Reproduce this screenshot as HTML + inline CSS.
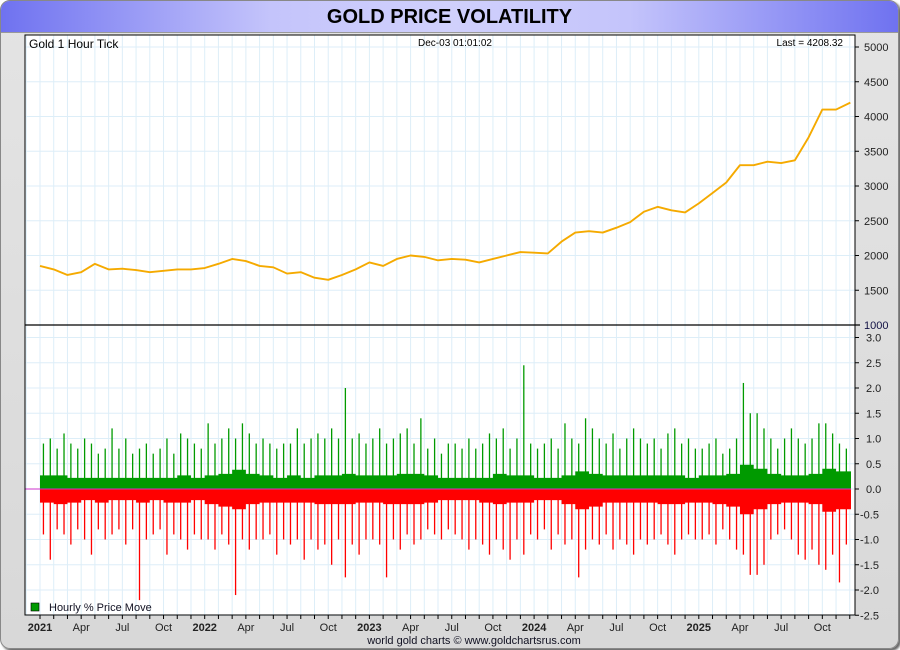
<!DOCTYPE html>
<html><head><meta charset="utf-8"><style>
body{margin:0;width:900px;height:650px;overflow:hidden;background:#fff;font-family:"Liberation Sans",sans-serif}
#frame{position:absolute;left:0;top:0;width:897px;height:647px;border:1px solid #888;border-radius:10px;background:linear-gradient(#e4e4e4,#d8d8d8);box-shadow:2px 2px 2px #666;overflow:hidden}
#title{position:absolute;left:0;top:0;width:897px;height:31px;background:linear-gradient(90deg,#6f72f0,#c4c4fb 30%,#d0d0fc 50%,#c4c4fb 70%,#6f72f0);text-align:center;font-weight:bold;font-size:20px;line-height:33px;color:#000;border-bottom:1px solid #999}
svg{position:absolute;left:0;top:0}
</style></head><body>
<div id="frame">
<div id="title">GOLD PRICE VOLATILITY</div>
</div>
<svg id="chart" width="900" height="650"></svg>
<script>
const priceMonths = [1850,1800,1720,1760,1880,1800,1810,1790,1760,1780,1800,1800,
1820,1880,1950,1920,1850,1830,1740,1760,1680,1650,1720,1800,
1900,1850,1950,2000,1980,1930,1950,1940,1900,1950,2000,2050,
2040,2030,2200,2330,2350,2330,2400,2480,2630,2700,2650,2620,
2750,2900,3050,3300,3300,3350,3330,3370,3700,4100,4100,4200];
const upPeaks = [0.9,1.0,0.8,1.1,0.9,0.8,1.0,0.9,0.7,0.8,1.2,0.8,1.0,0.7,0.8,0.9,0.7,0.8,1.0,0.7,1.1,1.0,0.9,0.8,
1.3,0.9,1.0,1.2,1.0,1.3,1.1,0.9,1.0,0.9,0.8,0.9,0.9,1.2,0.9,1.0,1.1,1.0,1.2,1.0,2.0,1.0,1.1,0.9,
1.0,1.2,0.9,1.0,1.1,1.2,0.9,1.4,0.8,1.0,0.7,0.9,0.9,0.8,1.0,0.8,0.9,1.1,1.0,1.2,0.8,1.0,2.45,0.9,
0.8,0.9,1.0,0.8,1.3,1.0,0.9,1.4,1.2,1.0,0.9,1.1,0.8,1.0,1.2,1.0,0.9,1.0,0.8,1.1,1.2,0.9,1.0,0.8,
0.8,0.9,1.0,0.7,0.8,1.0,2.1,1.5,1.5,1.2,1.0,0.8,1.0,1.2,1.0,0.9,1.0,1.3,1.3,1.1,0.9,0.8];
const downPeaks = [-0.9,-1.4,-0.8,-0.9,-1.1,-0.8,-1.0,-1.3,-0.8,-1.0,-0.9,-0.8,-1.1,-0.8,-2.2,-1.0,-0.9,-0.8,-1.3,-0.9,-1.0,-1.2,-0.9,-1.0,
-1.0,-1.2,-0.9,-1.1,-2.1,-1.0,-1.2,-1.0,-1.0,-0.9,-1.3,-1.0,-1.1,-1.0,-1.4,-1.0,-1.2,-1.1,-1.5,-1.0,-1.75,-1.1,-1.3,-1.0,
-1.0,-1.1,-1.75,-1.0,-1.2,-0.9,-1.1,-1.0,-0.8,-0.9,-1.0,-0.8,-0.9,-1.0,-1.2,-1.0,-1.1,-1.3,-1.0,-1.2,-1.4,-1.0,-1.3,-0.9,
-1.0,-0.8,-1.2,-0.9,-1.1,-1.0,-1.75,-1.2,-1.0,-1.1,-0.9,-1.2,-1.0,-1.1,-1.3,-1.0,-1.1,-1.0,-0.9,-1.1,-1.3,-1.0,-0.9,-1.0,
-1.0,-0.9,-1.1,-0.8,-1.0,-1.2,-1.3,-1.7,-1.7,-1.5,-1.0,-0.9,-0.8,-1.0,-1.3,-1.4,-1.2,-1.5,-1.6,-1.3,-1.85,-1.1];
const upTypical = [.27,.27,.22,.22,.22,.22,.22,.22,.22,.22,.27,.22, .27,.3,.38,.3,.27,.22,.27,.22,.27,.27,.3,.27,
.27,.27,.3,.3,.27,.22,.22,.22,.22,.3,.27,.27, .22,.22,.27,.35,.3,.27,.27,.27,.27,.27,.27,.22, .27,.27,.3,.48,.4,.3,.27,.27,.3,.4,.35,.35];
const downTypical = [-.27,-.3,-.27,-.22,-.27,-.22,-.22,-.27,-.22,-.27,-.27,-.22, -.3,-.35,-.4,-.3,-.27,-.27,-.27,-.27,-.3,-.3,-.3,-.27,
-.27,-.3,-.3,-.3,-.27,-.22,-.22,-.22,-.27,-.3,-.27,-.27, -.22,-.22,-.3,-.4,-.35,-.27,-.27,-.27,-.27,-.3,-.3,-.27, -.27,-.3,-.35,-.5,-.4,-.3,-.27,-.27,-.3,-.45,-.4,-.4];
const priceTicks = [1000,1500,2000,2500,3000,3500,4000,4500,5000];
const volTicks = [-2.5,-2.0,-1.5,-1.0,-0.5,0.0,0.5,1.0,1.5,2.0,2.5,3.0];
const monthLabels = ['2021','Apr','Jul','Oct','2022','Apr','Jul','Oct','2023','Apr','Jul','Oct','2024','Apr','Jul','Oct','2025','Apr','Jul','Oct'];

const NS='http://www.w3.org/2000/svg', svg=document.getElementById('chart');
const L=25,R=855,T=35,MID=325,B=615;
const xYear=t=>40+t*164.7;
const yP=v=>MID-(v-1000)*0.0695;
const yV=v=>489-v*50.5;
function el(tag,at,parent){const e=document.createElementNS(NS,tag);for(const k in at)e.setAttribute(k,at[k]);(parent||svg).appendChild(e);return e;}

const bg=el('rect',{x:L,y:T,width:R-L,height:B-T,fill:'#fff'});


const grid=el('g',{stroke:'#ddeef8','stroke-width':1});


for(let m=-1;m<60;m++){const x=xYear(m/12);if(x>L&&x<R)el('line',{x1:x,x2:x,y1:T,y2:B},grid);}
for(const v of priceTicks){el('line',{x1:L,x2:R,y1:yP(v),y2:yP(v)},grid);}
for(const v of volTicks){el('line',{x1:L,x2:R,y1:yV(v),y2:yV(v)},grid);}

function areaPath(arr){let d=`M${xYear(0)},${yV(0)}`;arr.forEach((v,i)=>{const x0=xYear(i/12),x1=Math.min(xYear((i+1)/12),851);d+=`L${x0},${yV(v)}L${x1},${yV(v)}`;});d+=`L851,${yV(0)}Z`;return d;}
const ua=el('path',{d:areaPath(upTypical),fill:'#009a00'});


const da=el('path',{d:areaPath(downTypical),fill:'#ff0000'});


const ug=el('g',{stroke:'#009a00','stroke-width':1.3});


const dg=el('g',{stroke:'#ff0000','stroke-width':1.3});


upPeaks.forEach((v,i)=>{const x=xYear((i+0.5)/24);el('line',{x1:x,x2:x,y1:yV(0),y2:yV(v)},ug);});
downPeaks.forEach((v,i)=>{const x=xYear((i+0.5)/24);el('line',{x1:x,x2:x,y1:yV(0),y2:yV(v)},dg);});
const zl=el('line',{x1:L,x2:851,y1:yV(0),y2:yV(0),stroke:'#cc33cc','stroke-width':1});



const pl=el('polyline',{points:priceMonths.map((v,i)=>`${Math.min(xYear(i<59?i/12:4.92),851)},${yP(v)}`).join(' '),fill:'none',stroke:'#f5aa00','stroke-width':1.9,'stroke-linejoin':'round'});



const bd=el('rect',{x:L,y:T,width:R-L,height:B-T,fill:'none',stroke:'#000','stroke-width':1});


el('line',{x1:L,x2:R+5,y1:MID,y2:MID,stroke:'#000','stroke-width':1.2});

const ax=el('g',{'font-size':11,fill:'#222','font-family':'Liberation Sans, sans-serif'});


for(const v of priceTicks){const y=yP(v);el('line',{x1:R,x2:R+4,y1:y,y2:y,stroke:'#000'},ax);const t=el('text',{x:864,y:y+4,fill:v===1000?'#114':'#222'},ax);t.textContent=v;}
for(const v of volTicks){const y=yV(v);el('line',{x1:R,x2:R+4,y1:y,y2:y,stroke:'#000'},ax);const t=el('text',{x:v<0?860:866,y:y+4},ax);t.textContent=v.toFixed(1);}
const xa=el('g',{'font-size':11,fill:'#222'});


for(let m=0;m<60;m++){const x=xYear(m/12);el('line',{x1:x,x2:x,y1:B,y2:B+4,stroke:'#000'},xa);}
monthLabels.forEach((s,i)=>{const t=el('text',{x:xYear(i/4),y:631,'text-anchor':'middle','font-weight':i%4===0?'bold':'normal'},xa);t.textContent=s;});

function txt(x,y,s,name,opts){const t=el('text',Object.assign({x,y,'font-size':12,fill:'#000'},opts||{}));t.textContent=s;return t;}
txt(29,48,'Gold 1 Hour Tick','series-label');
txt(455,46,'Dec-03  01:01:02','timestamp',{'font-size':10,'text-anchor':'middle'});
txt(843,46,'Last = 4208.32','last-price',{'font-size':10,'text-anchor':'end'});
const lg=el('rect',{x:31,y:603,width:8,height:8,fill:'#009a00',stroke:'#000','stroke-width':0.6});


txt(49,611,'Hourly % Price Move','legend-label',{'font-size':11,fill:'#112'});
txt(474,644,'world gold charts © www.goldchartsrus.com','credit',{'font-size':11,'text-anchor':'middle',fill:'#112'});
</script>
</body></html>
